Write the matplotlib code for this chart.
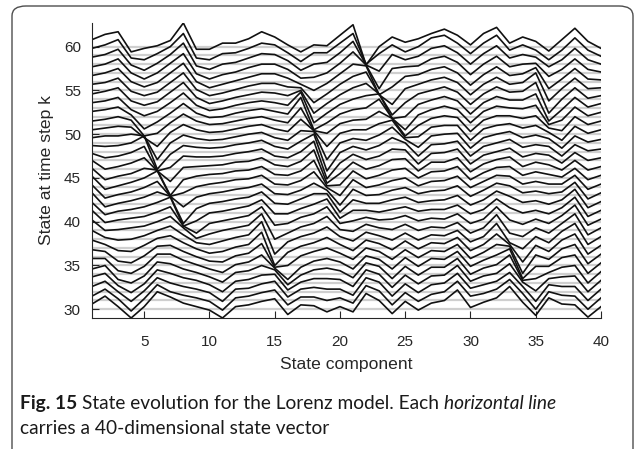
import numpy as np
import matplotlib
matplotlib.use("Agg")
import matplotlib.pyplot as plt
from matplotlib.patches import FancyBboxPatch

# time steps (one horizontal line each), listed from top (60) to bottom (30)
time_steps = list(range(60, 29, -1))
components = list(range(1, 41))

# offset of each line above its baseline, per state component (top line first)
comp_01 = [.8,.8,.8,.7,.7, .7,.6,.6,.6,.5, .5,.6,.7,.8,1.0, 1.1,1.2,1.2,1.3,1.2, 1.3,1.2,1.0,.9,.8, .8,.6,.7,.6,.5, .6]
comp_02 = [1.4,1.2,1.1,1.0,1.0, .9,.9,.8,.8,.7, .7,.8,.6,.3,.0, -.2,-.3,-.3,-.3,-.2, -.1,.0,.2,.4,.6, .8,1.0,1.1,1.2,1.3, 1.5]
comp_03 = [1.7,1.8,1.7,1.6,1.5, 1.4,1.3,1.2,1.1,1.0, .9,.8,.7,.5,.3, .2,.1,.1,.1,.2, .2,.1,-.1,-.3,-.5, -.6,-.6,-.3,.0,.2, .3]
comp_04 = [-.6,-.3,-.1,.0,.0, -.1,-.2,-.2,.2,.6, .8,1.0,1.0,.9,.7, .5,.5,.4,.4,.4, .4,.3,.0,-.4,-.7, -.9,-1.0,-1.1,-1.1,-1.2, -1.0]
comp_05 = [-.2,-.5,-.7,-.7,-.6, -.6,-.7,-.9,-1.4,-1.2, -.4,.8,1.8,1.6,1.3, 1.1,1.0,.9,.8,.7, .6,.5,.4,.3,.1, -.1,-.2,-.1,.1,.2, .3]
comp_06 = [.1,.2,.1,.0,-.1, -.2,-.3,-.4,-.6,-.9, -1.4,-1.9,-2.0,-1.2,-.2, .9,1.8,1.6,1.4,1.2, 1.1,1.0,1.0,1.1,1.2, 1.3,1.4,1.5,1.6,1.8, 2.0]
comp_07 = [.7,1.0,1.1,1.1,1.0, .9,.8,.6,.4,.3, .2,.0,-.3,-.8,-1.4, -2.0,-1.1,-.1,.9,1.8, 1.7,1.6,1.5,1.4,1.3, 1.3,1.2,1.1,1.0,1.0, 1.4]
comp_08 = [2.7,2.5,2.4,2.2,2.1, 2.0,1.9,1.7,1.5,1.3, 1.1,.9,.7,.5,.2, -.2,-.7,-1.3,-2.2,-1.5, -.5,.3,.5,.6,.6, .6,.6,.6,.6,.6, .7]
comp_09 = [-.3,-.3,-.2,-.1,.0, .1,.2,.3,.4,.5, .5,.5,.5,.4,.3, .2,.0,-.2,-.5,-.9, -1.3,-.9,-.4,-.1,.0, .1,.2,.3,.3,.3, .3]
comp_10 = [-.3,-.5,-.6,-.7,-.7, -.6,-.5,-.3,-.1,.1, .2,.3,.4,.4,.4, .4,.3,.2,.1,.0, -.2,-.4,-.6,-.6,-.5, -.4,-.3,-.2,-.1,-.1, -.1]
comp_11 = [.4,.2,.0,-.2,-.3, -.3,-.2,-.1,.0,.2, .3,.4,.5,.5,.5, .5,.5,.4,.3,.2, .1,.0,-.2,-.4,-.6, -.8,-.9,-1.0,-1.1,-1.1, -1.0]
comp_12 = [.4,.3,.2,.1,.1, .1,.2,.3,.4,.5, .6,.7,.8,.8,.8, .8,.8,.7,.6,.5, .4,.3,.2,.1,.1, .1,.2,.2,.3,.3, .3]
comp_13 = [.9,.8,.7,.6,.5, .5,.5,.6,.7,.8, .9,1.0,1.0,1.0,.9, .9,.9,.9,.8,.8, .7,.6,.5,.4,.4, .4,.4,.4,.4,.5, .5]
comp_14 = [1.7,1.4,1.2,1.0,.9, .8,.8,.8,.9,1.0, 1.1,1.2,1.3,1.3,1.3, 1.3,1.3,1.3,1.4,1.5, 1.7,1.9,2.0,1.8,1.5, 1.2,1.0,.9,.9,.9, .9]
comp_15 = [1.1,1.2,1.1,1.0,.9, .8,.7,.6,.6,.6, .6,.6,.6,.5,.5, .4,.3,.2,.1,-.1, -.4,-1.0,-1.7,-2.0,-1.2, -.3,.5,1.0,1.2,1.2, 1.2]
comp_16 = [.2,.3,.4,.4,.4, .4,.4,.3,.3,.3, .3,.3,.3,.3,.3, .3,.2,.1,.0,-.1, -.2,-.3,-.3,-.5,-1.0, -1.6,-1.2,-.8,-.6,-.5, -.6]
comp_17 = [-.6,-.7,-.7,-.6,-.3, .3,1.0,1.8,2.2,2.0, 1.7,1.4,1.2,1.0,.9, .8,.7,.6,.6,.5, .5,.4,.3,.2,.1, -.2,-.1,.1,.3,.4, .5]
comp_18 = [.2,.3,.0,-.5,-1.0, -1.4,-1.6,-1.7,-1.5,-.6, .4,1.3,2.0,2.2,2.2, 2.0,1.7,1.4,1.2,1.0, .9,.8,.7,.6,.6, .5,.5,.5,.5,.4, .4]
comp_19 = [.1,.3,.2,.0,-.2, -.4,-.5,-.6,-.7,-.9, -1.4,-1.9,-2.2,-2.1,-1.6, -.9,-.1,.6,1.2,1.6, 1.7,1.6,1.4,1.2,1.0, .8,.7,.5,.3,.0, -.3]
comp_20 = [1.3,1.4,1.3,1.1,.9, .7,.5,.4,.3,.2, .1,.0,-.1,-.3,-.5, -.8,-1.0,-1.1,-.9,-.6, -.2,.1,.3,.4,.4, .4,.4,.4,.3,.3, .3]
comp_21 = [2.5,2.5,2.6,2.4,2.0, 1.6,1.3,1.0,.8,.6, .5,.5,.6,.7,.8, .8,.8,.7,.5,.3, .1,-.1,-.2,-.3,-.3, -.4,-.4,-.4,-.4,-.3, -.3]
comp_22 = [-2.1,-1.0,-.1,.9,1.8, 2.1,1.8,1.4,1.0,.7, .5,.3,.2,.1,.0, -.1,-.1,.0,.1,.3, .5,.7,.8,.9,1.0, 1.1,1.3,1.5,1.6,1.7, 1.8]
comp_23 = [.0,.2,-.8,-1.8,-1.5, -.5,.6,1.6,2.0,1.6, 1.2,.9,.7,.5,.4, .3,.2,.1,.1,.1, .2,.3,.4,.5,.6, .7,.9,1.0,1.1,1.1, 1.0]
comp_24 = [1.1,1.2,1.1,.5,-.6, -1.6,-1.8,-1.2,-.2,.8, 1.6,1.8,1.6,1.3,1.1, .9,.7,.6,.5,.4, .3,.1,-.1,-.2,-.3, -.4,-.5,-.5,-.5,-.5, -.5]
comp_25 = [.5,.4,.5,.7,.6, .2,-.4,-1.0,-1.5,-1.2, -.4,.4,1.0,1.2,1.2, 1.1,1.0,.9,.8,.7, .7,.7,.7,.8,.8, .9,.9,.9,.9,.9, .9]
comp_26 = [.9,1.0,.9,.8,.8, .7,.6,.4,.2,.0, -.3,-.5,-.5,-.4,-.2, .0,.1,.2,.2,.2, .1,.0,-.1,-.1,-.1, -.1,-.1,-.1,-.1,-.1, -.1]
comp_27 = [1.5,2.0,1.8,1.6,1.4, 1.2,1.0,.9,.8,.8, .8,.8,.8,.8,.8, .7,.6,.5,.4,.4, .4,.4,.5,.6,.7, .8,.8,.8,.8,.7, .7]
comp_28 = [2.0,2.3,2.1,1.9,1.7, 1.5,1.4,1.3,1.2,1.1, 1.0,1.0,.9,.9,.8, .8,.7,.6,.5,.4, .3,.3,.4,.5,.6, .7,.8,.9,1.0,1.0, 1.0]
comp_29 = [1.3,1.4,1.3,1.2,1.0, .9,.8,.8,.8,.9, 1.0,1.1,1.2,1.3,1.3, 1.3,1.2,1.1,1.0,.9, .9,.9,1.0,1.2,1.4, 1.6,1.8,2.0,2.1,2.2, 2.2]
comp_30 = [.2,.2,.0,-.2,-.4, -.5,-.6,-.7,-.7,-.7, -.7,-.6,-.5,-.4,-.3, -.2,-.1,-.1,-.1,-.1, -.2,-.3,-.3,-.3,-.2, -.1,.0,.2,.4,.5, .2]
comp_31 = [1.5,1.4,1.2,1.0,.8, .7,.6,.6,.6,.6, .6,.6,.6,.6,.6, .6,.6,.6,.5,.4, .3,.3,.3,.4,.5, .6,.7,.8,.8,.8, .8]
comp_32 = [2.2,2.3,2.1,1.9,1.7, 1.5,1.4,1.3,1.2,1.1, 1.0,1.0,1.0,1.0,1.1, 1.2,1.3,1.4,1.5,1.6, 1.7,1.8,1.8,1.6,1.4, 1.2,1.1,1.1,1.2,1.3, 1.3]
comp_33 = [.4,.6,.7,.7,.7, .7,.8,.9,1.0,1.1, 1.2,1.3,1.4,1.4,1.4, 1.3,1.2,1.1,.9,.6, .2,-.3,-.4,.4,1.2, 1.9,2.2,2.2,2.2,2.4, 2.6]
comp_34 = [1.1,1.2,1.1,1.0,.9, .9,.9,.9,.9,.8, .7,.6,.5,.4,.3, .3,.3,.3,.2,.0, -.3,-.7,-1.1,-1.6,-1.9, -1.5,-.7,.1,.6,.8, .8]
comp_35 = [.6,.6,.8,1.1,1.6, 2.0,1.9,1.6,1.3,1.1, 1.0,.9,.8,.8,.8, .7,.6,.5,.4,.3, .3,.3,.3,.3,.2, -.1,-.5,-.9,-1.1,-1.0, -.7]
comp_36 = [-.5,-.5,-.3,-.4,-.8, -1.2,-1.6,-1.5,-.9,-.3, .2,.5,.6,.6,.5, .4,.3,.2,.0,-.1, -.2,-.3,-.4,-.4,-.3, -.1,.2,.5,.8,1.0, 1.3]
comp_37 = [.8,.6,.5,.4,.3, .2,.0,-.2,-.4,-.6, -.7,-.6,-.5,-.3,-.1, .1,.3,.4,.5,.6, .7,.8,.9,.9,.9, .9,.8,.7,.6,.6, .6]
comp_38 = [2.1,2.0,1.8,1.6,1.5, 1.4,1.3,1.2,1.1,1.0, .9,.8,.8,.9,1.0, 1.1,1.3,1.5,1.7,1.8, 1.9,1.9,1.8,1.6,1.4, 1.2,1.0,.8,.6,.5, .5]
comp_39 = [.6,.6,.5,.4,.3, .2,.1,.1,.1,.1, .1,.1,.1,.0,-.1, -.2,-.3,-.4,-.4,-.4, -.4,-.5,-.6,-.7,-.8, -.9,-1.0,-1.0,-1.0,-1.0, -.9]
comp_40 = [-.2,-.1,.0,.1,.2, .3,.4,.5,.5,.5, .5,.4,.3,.3,.3, .3,.3,.3,.3,.3, .3,.3,.3,.3,.3, .3,.3,.3,.3,.3, .3]

x_ticks = [5, 10, 15, 20, 25, 30, 35, 40]
y_ticks = [30, 35, 40, 45, 50, 55, 60]

cols = [comp_01, comp_02, comp_03, comp_04, comp_05, comp_06, comp_07, comp_08, comp_09, comp_10,
        comp_11, comp_12, comp_13, comp_14, comp_15, comp_16, comp_17, comp_18, comp_19, comp_20,
        comp_21, comp_22, comp_23, comp_24, comp_25, comp_26, comp_27, comp_28, comp_29, comp_30,
        comp_31, comp_32, comp_33, comp_34, comp_35, comp_36, comp_37, comp_38, comp_39, comp_40]
offsets = np.array(cols, dtype=float)          # shape (40 components, 31 time steps)
values = offsets + np.array(time_steps)[None, :]

W, H = 635, 449
fig = plt.figure(figsize=(W / 100, H / 100), dpi=100)
fig.patch.set_facecolor("white")

def fx(px):
    return px / W

def fy(py):
    return 1 - py / H

# rounded journal frame
frame = FancyBboxPatch((fx(12), fy(470)), fx(621), (470 - 6) / H,
                       boxstyle="round,pad=0,rounding_size=0.022",
                       transform=fig.transFigure, fill=False,
                       edgecolor="#4d4d4d", linewidth=1.0, zorder=0)
fig.patches.append(frame)

ax = fig.add_axes([fx(92), fy(318), (601 - 92) / W, (318 - 23) / H])
for k in time_steps:
    ax.axhline(k, color="#cfcfcf", linewidth=1.6, zorder=1)
for j, k in enumerate(time_steps):
    ax.plot(components, values[:, j], color="#111111", linewidth=1.2, zorder=2)

ax.set_xlim(1, 40)
ax.set_ylim(values.min(), values.max())
ax.set_xticks(x_ticks)
ax.set_yticks(y_ticks)
for s in ["top", "right"]:
    ax.spines[s].set_visible(False)
for s in ["left", "bottom"]:
    ax.spines[s].set_color("#262626")
    ax.spines[s].set_linewidth(0.8)
ax.tick_params(axis="y", direction="in", length=5, width=0.8, colors="#262626",
               labelsize=11, pad=8)
ax.tick_params(axis="x", direction="in", length=5, width=0.8, colors="#262626",
               labelsize=11, pad=12)
for lab in ax.get_xticklabels() + ax.get_yticklabels():
    lab.set_fontfamily("Liberation Sans")
    lab.set_color("#262626")
ax.set_xlabel("State component", fontsize=12.6, family="Liberation Sans",
              color="#262626", labelpad=6)
ax.set_ylabel("State at time step k", fontsize=12.6, family="Liberation Sans",
              color="#262626", labelpad=7)

# caption (mixed bold / regular / italic), scaled so line 1 spans x=20..555 px
cap_font = "Lato"
fig.canvas.draw()
r = fig.canvas.get_renderer()


def caption(size, draw=True):
    xs = 20.0
    base1 = 409
    pieces = [("Fig. 15", "bold", "normal"),
              ("State evolution for the Lorenz model. Each", "normal", "normal"),
              ("horizontal line", "normal", "italic")]
    made = []
    for txt, wt, st in pieces:
        t = fig.text(fx(xs), fy(base1), txt, fontsize=size, fontweight=wt, style=st,
                     family=cap_font, va="baseline", color="#1a1a1a")
        bb = t.get_window_extent(r)
        made.append(t)
        xs = bb.x1 + size * 1.389 * 0.26
    end = xs - size * 1.389 * 0.26
    t = fig.text(fx(20), fy(base1 + 25), "carries a 40-dimensional state vector",
                 fontsize=size, family=cap_font, va="baseline", color="#1a1a1a")
    made.append(t)
    if not draw:
        for m in made:
            m.remove()
    return end


end0 = caption(12, draw=False)
size = 12 * (555 - 20) / (end0 - 20)
caption(size)

fig.savefig("out.png", dpi=100, facecolor="white")
